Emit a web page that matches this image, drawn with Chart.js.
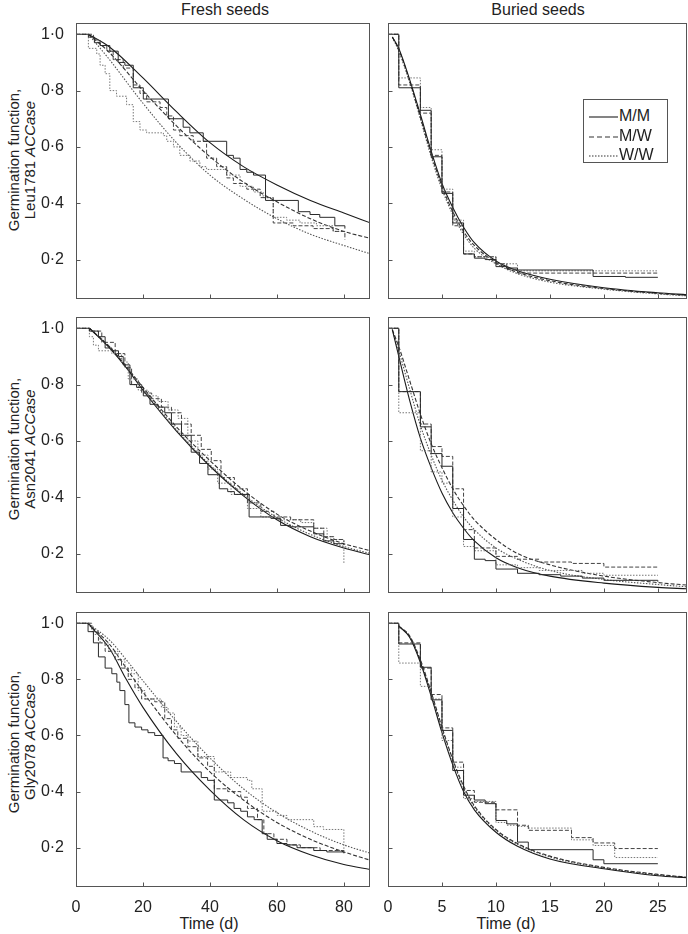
<!DOCTYPE html>
<html>
<head>
<meta charset="utf-8">
<script src="https://cdn.jsdelivr.net/npm/chart.js@4.4.1/dist/chart.umd.min.js"></script>
<style>
  body { margin: 0; background: #fff; }
  #wrap { position: relative; width: 688px; height: 934px; font-family: "Liberation Sans", Arial, sans-serif; color: #222; }
  canvas { position: absolute; }
  .lbl { position: absolute; font-size: 16px; line-height: 18px; white-space: nowrap; transform: translate(-50%, -50%); }
  .ytitle { position: absolute; font-size: 15px; line-height: 16px; text-align: center; white-space: nowrap; transform: translate(-50%, -50%) rotate(-90deg); }
  #legend { position: absolute; left: 583px; top: 99px; width: 83px; height: 62px; border: 1px solid #555; background: #fff; font-size: 16px; z-index: 5; }
  #legend .row { position: absolute; left: 5px; height: 18px; line-height: 18px; }
  #legend svg { vertical-align: middle; margin-right: 1px; }
</style>
</head>
<body>
<div id="wrap">
  <div class="lbl" style="left:225px;top:10px">Fresh seeds</div>
  <div class="lbl" style="left:538px;top:10px">Buried seeds</div>

  <div class="ytitle" style="left:22px;top:160px">Germination function,<br>Leu1781 <i>ACCase</i></div>
  <div class="ytitle" style="left:22px;top:449px">Germination function,<br>Asn2041 <i>ACCase</i></div>
  <div class="ytitle" style="left:22px;top:742px">Germination function,<br>Gly2078 <i>ACCase</i></div>

  <div class="lbl" style="left:209px;top:924px">Time (d)</div>
  <div class="lbl" style="left:506px;top:924px">Time (d)</div>

  <canvas id="c1" width="376" height="282" style="left:0;top:19px"></canvas>
  <canvas id="c2" width="308" height="282" style="left:380px;top:19px"></canvas>
  <canvas id="c3" width="376" height="282" style="left:0;top:313px"></canvas>
  <canvas id="c4" width="308" height="282" style="left:380px;top:313px"></canvas>
  <canvas id="c5" width="376" height="309" style="left:0;top:608px"></canvas>
  <canvas id="c6" width="308" height="309" style="left:380px;top:608px"></canvas>

  <div id="legend">
    <div class="row" style="top:7px"><svg width="29" height="4"><line x1="0" y1="2" x2="29" y2="2" stroke="#333" stroke-width="1.2"/></svg>M/M</div>
    <div class="row" style="top:27px"><svg width="29" height="4"><line x1="0" y1="2" x2="29" y2="2" stroke="#333" stroke-width="1.2" stroke-dasharray="5,3"/></svg>M/W</div>
    <div class="row" style="top:46px"><svg width="29" height="4"><line x1="0" y1="2" x2="29" y2="2" stroke="#333" stroke-width="1.2" stroke-dasharray="1.5,1.5"/></svg>W/W</div>
  </div>
</div>

<script>
// tick labels
const yTicks = [0.2, 0.4, 0.6, 0.8, 1.0]
const freshTicks = [0, 20, 40, 60, 80]
const buriedTicks = [0, 5, 10, 15, 20, 25]

// Leu1781, fresh seeds  ([time, fraction not germinated])
const leuFreshStepMM = [[0,1.0],[3.7,0.99],[5.5,0.97],[7.2,0.96],[10.1,0.94],[12.6,0.90],[14.6,0.89],[17.1,0.81],[20.1,0.77],[27.6,0.70],[32,0.67],[34,0.65],[38,0.62],[45,0.57],[47,0.56],[49,0.52],[51,0.51],[53,0.50],[56.6,0.41],[66.4,0.37],[69.9,0.36],[72.8,0.35],[77.3,0.32],[80.3,0.31]]
const leuFreshStepMW = [[0,1.0],[5.2,0.98],[7.2,0.96],[9.2,0.94],[11.1,0.91],[14.1,0.88],[17.1,0.82],[19.1,0.79],[21.1,0.76],[25.1,0.74],[27.1,0.71],[29.1,0.66],[31,0.64],[35,0.62],[39,0.56],[42,0.53],[45,0.49],[47,0.47],[51,0.45],[55,0.42],[58.9,0.33],[64.9,0.32],[70.8,0.31],[76.8,0.30],[80.3,0.27]]
const leuFreshStepWW = [[0,1.0],[3.7,0.95],[6.2,0.93],[7.2,0.89],[8.7,0.86],[10.1,0.80],[12.1,0.78],[15.1,0.75],[17.1,0.69],[19.1,0.66],[21.1,0.65],[26.1,0.64],[27.1,0.62],[29.1,0.60],[31,0.57],[34,0.55],[37,0.53],[39,0.52],[45,0.50],[49,0.46],[53,0.44],[55.9,0.42],[58.9,0.35],[62.9,0.34],[66.9,0.33],[71.8,0.32],[76.8,0.30],[80.3,0.29]]
const leuFreshFitMM = [[3.7,1.0],[10,0.955],[20,0.845],[30,0.725],[40,0.615],[50,0.53],[60,0.465],[70,0.41],[80,0.365],[88,0.33]]
const leuFreshFitMW = [[3.7,1.0],[10,0.935],[20,0.80],[30,0.675],[40,0.565],[50,0.475],[60,0.405],[70,0.345],[80,0.30],[88,0.275]]
const leuFreshFitWW = [[3.7,1.0],[10,0.91],[20,0.755],[30,0.615],[40,0.50],[50,0.415],[60,0.345],[70,0.29],[80,0.25],[88,0.22]]

// Leu1781, buried seeds
const leuBuriedStepMM = [[0,1.0],[1,0.81],[3,0.73],[4,0.565],[5,0.435],[6,0.33],[7,0.22],[8,0.205],[9,0.20],[10,0.175],[11,0.17],[12,0.163],[19,0.14],[22,0.137],[25,0.137]]
const leuBuriedStepMW = [[0,1.0],[1,0.82],[3,0.72],[4,0.57],[5,0.44],[6,0.32],[7,0.22],[8,0.21],[10,0.185],[11,0.165],[12,0.152],[25,0.152]]
const leuBuriedStepWW = [[0,1.0],[1,0.845],[3,0.74],[4,0.59],[5,0.45],[6,0.34],[7,0.23],[8,0.21],[10,0.185],[12,0.16],[25,0.16]]
const leuBuriedFitMM = [[0.4,0.99],[1,0.95],[2,0.84],[3,0.715],[4,0.585],[5,0.47],[6,0.385],[7,0.315],[8,0.26],[10,0.195],[12,0.16],[15,0.13],[20,0.10],[25,0.082],[27.7,0.075]]
const leuBuriedFitMW = [[0.4,0.99],[1,0.945],[2,0.835],[3,0.705],[4,0.575],[5,0.46],[6,0.37],[7,0.30],[8,0.25],[10,0.19],[12,0.155],[15,0.125],[20,0.097],[25,0.08],[27.7,0.073]]
const leuBuriedFitWW = [[0.4,0.99],[1,0.94],[2,0.83],[3,0.70],[4,0.565],[5,0.45],[6,0.36],[7,0.29],[8,0.24],[10,0.185],[12,0.15],[15,0.12],[20,0.095],[25,0.078],[27.7,0.071]]

// Asn2041, fresh seeds
const asnFreshStepMM = [[0,1.0],[4,0.99],[6.7,0.97],[8.7,0.93],[10.7,0.92],[12.7,0.90],[14.1,0.87],[16.1,0.80],[18.1,0.79],[20.1,0.76],[22.1,0.73],[24.5,0.72],[26.5,0.70],[28.5,0.66],[31.5,0.62],[34.4,0.56],[36.9,0.52],[39.4,0.48],[42.8,0.43],[45.3,0.42],[47.3,0.41],[51.7,0.33],[58.2,0.325],[61.1,0.30],[64.1,0.295],[71.0,0.27],[74.0,0.245],[77.0,0.235],[80.0,0.23]]
const asnFreshStepMW = [[0,1.0],[4,0.99],[7.7,0.95],[11.7,0.91],[14.6,0.86],[16.6,0.80],[19.6,0.77],[22.6,0.75],[25.5,0.72],[28.5,0.70],[31.5,0.66],[34.4,0.62],[37.4,0.57],[40.4,0.53],[43.3,0.47],[47.3,0.43],[51.2,0.38],[55.2,0.35],[59.1,0.33],[64.1,0.32],[71.0,0.29],[74.0,0.26],[77.0,0.25],[80.0,0.24]]
const asnFreshStepWW = [[0,1.0],[4,0.97],[5.2,0.94],[6.7,0.92],[10.7,0.91],[13.6,0.88],[15.6,0.82],[18.6,0.78],[21.6,0.76],[24.5,0.74],[27.5,0.71],[30.5,0.68],[33.4,0.60],[36.4,0.55],[39.4,0.50],[42.3,0.45],[46.3,0.41],[51.2,0.36],[55.2,0.33],[60.1,0.32],[67.1,0.31],[71.0,0.29],[75.0,0.26],[77.0,0.25],[80.0,0.165]]
const asnFreshFitMM = [[4,1.0],[10,0.93],[15,0.86],[20,0.78],[30,0.635],[40,0.51],[50,0.405],[60,0.32],[70,0.26],[80,0.22],[88,0.195]]
const asnFreshFitMW = [[4,1.0],[10,0.935],[15,0.865],[20,0.79],[30,0.65],[40,0.53],[50,0.425],[60,0.34],[70,0.28],[80,0.235],[88,0.21]]
const asnFreshFitWW = [[4,1.0],[10,0.932],[15,0.862],[20,0.785],[30,0.64],[40,0.515],[50,0.41],[60,0.328],[70,0.268],[80,0.225],[88,0.20]]

// Asn2041, buried seeds
const asnBuriedStepMM = [[0,1.0],[1,0.775],[3,0.65],[4,0.555],[5,0.51],[6,0.36],[7,0.25],[8,0.18],[9,0.175],[10,0.145],[12,0.13],[14,0.125],[16,0.12],[18,0.113],[20,0.105],[25,0.10]]
const asnBuriedStepMW = [[0,1.0],[1,0.775],[3,0.66],[4,0.58],[5,0.545],[6,0.43],[7,0.285],[8,0.22],[10,0.19],[12,0.18],[14,0.17],[17,0.165],[20,0.152],[25,0.152]]
const asnBuriedStepWW = [[0,1.0],[1,0.70],[3,0.565],[4,0.49],[5,0.45],[6,0.33],[7,0.225],[8,0.21],[10,0.16],[12,0.15],[14,0.14],[18,0.13],[20,0.123],[25,0.123]]
const asnBuriedFitMM = [[0.4,0.995],[1,0.90],[2,0.745],[3,0.61],[4,0.505],[5,0.415],[6,0.345],[7,0.29],[8,0.245],[10,0.185],[12,0.15],[15,0.12],[20,0.095],[25,0.08],[27.7,0.075]]
const asnBuriedFitMW = [[0.4,0.995],[1,0.935],[2,0.815],[3,0.695],[4,0.59],[5,0.505],[6,0.43],[7,0.37],[8,0.32],[10,0.25],[12,0.20],[15,0.16],[20,0.12],[25,0.097],[27.7,0.088]]
const asnBuriedFitWW = [[0.4,0.995],[1,0.92],[2,0.785],[3,0.655],[4,0.55],[5,0.46],[6,0.39],[7,0.33],[8,0.285],[10,0.22],[12,0.18],[15,0.14],[20,0.108],[25,0.09],[27.7,0.082]]

// Gly2078, fresh seeds
const glyFreshStepMM = [[0,1.0],[3.6,0.97],[5.2,0.93],[6.7,0.88],[8.7,0.84],[10.7,0.82],[12.2,0.79],[13.1,0.76],[14.6,0.71],[15.8,0.645],[17.6,0.63],[19.6,0.62],[21.5,0.61],[23.5,0.60],[26,0.52],[27.5,0.51],[29.4,0.50],[31.4,0.47],[37.4,0.45],[39.3,0.44],[41.3,0.37],[45.3,0.36],[47.2,0.34],[49.2,0.33],[51.2,0.31],[53.2,0.30],[55.6,0.25],[57.1,0.23],[60,0.215],[63,0.21],[66,0.20],[71,0.19],[74.9,0.185],[80,0.18]]
const glyFreshStepMW = [[0,1.0],[4.7,0.97],[6.7,0.93],[8.7,0.90],[11.7,0.87],[13.6,0.84],[15.6,0.80],[17.6,0.77],[19.6,0.73],[23.5,0.72],[26.5,0.66],[28.5,0.62],[30.4,0.59],[33.4,0.56],[36.4,0.52],[39.3,0.49],[41.3,0.41],[45.3,0.40],[49.2,0.38],[51.2,0.34],[54.2,0.30],[56.1,0.25],[59.1,0.23],[63,0.21],[67,0.20],[72.9,0.19],[80,0.18]]
const glyFreshStepWW = [[0,1.0],[4.0,0.99],[5.2,0.96],[7.2,0.93],[9.7,0.90],[12.6,0.87],[14.6,0.84],[16.6,0.82],[18.6,0.76],[20.6,0.73],[25.5,0.70],[27.5,0.68],[29.4,0.63],[31.4,0.60],[33.4,0.58],[36.4,0.525],[41.3,0.47],[46.2,0.45],[51.2,0.44],[52.5,0.41],[55.6,0.33],[60.1,0.315],[63,0.30],[71,0.275],[73.9,0.265],[80,0.18]]
const glyFreshFitMM = [[3.5,1.0],[10,0.91],[15,0.80],[20,0.70],[30,0.535],[40,0.405],[50,0.30],[60,0.225],[70,0.175],[80,0.14],[88,0.122]]
const glyFreshFitMW = [[3.5,1.0],[10,0.925],[15,0.84],[20,0.755],[30,0.60],[40,0.47],[50,0.37],[60,0.29],[70,0.23],[80,0.185],[88,0.155]]
const glyFreshFitWW = [[3.5,1.0],[10,0.94],[15,0.87],[20,0.795],[30,0.65],[40,0.52],[50,0.41],[60,0.325],[70,0.26],[80,0.21],[88,0.18]]

// Gly2078, buried seeds
const glyBuriedStepMM = [[0,1.0],[1,0.926],[3,0.843],[4,0.727],[5,0.618],[6,0.475],[7,0.387],[8,0.37],[9,0.357],[10,0.297],[11,0.285],[12,0.22],[13,0.193],[19,0.157],[20,0.143],[25,0.143]]
const glyBuriedStepMW = [[0,1.0],[1,0.93],[3,0.84],[4,0.746],[5,0.627],[6,0.505],[7,0.404],[8,0.362],[10,0.335],[12,0.28],[13,0.262],[17,0.236],[19,0.217],[21,0.197],[25,0.197]]
const glyBuriedStepWW = [[0,1.0],[1,0.858],[3,0.775],[4,0.73],[5,0.582],[6,0.487],[7,0.375],[8,0.365],[10,0.29],[11,0.28],[12,0.276],[13,0.27],[17,0.228],[19,0.208],[21,0.165],[25,0.165]]
const glyBuriedFitMM = [[1,0.99],[2,0.95],[3,0.86],[4,0.74],[5,0.61],[6,0.495],[7,0.40],[8,0.335],[10,0.255],[12,0.205],[15,0.16],[20,0.125],[25,0.10],[27.7,0.093]]
const glyBuriedFitMW = [[1,0.99],[2,0.955],[3,0.87],[4,0.755],[5,0.63],[6,0.515],[7,0.42],[8,0.35],[10,0.265],[12,0.215],[15,0.17],[20,0.13],[25,0.105],[27.7,0.095]]
const glyBuriedFitWW = [[1,0.99],[2,0.952],[3,0.866],[4,0.75],[5,0.625],[6,0.51],[7,0.415],[8,0.345],[10,0.262],[12,0.212],[15,0.167],[20,0.128],[25,0.103],[27.7,0.094]]

const FONT = '"Liberation Sans", Arial, sans-serif'
const dashes = { MM: [], MW: [4, 2], WW: [1.5, 1.5] }

// box round the plot plus short inward ticks
const framePlugin = {
    id: 'frame',
    afterDraw: (chart) => {
        const {ctx, chartArea: a, scales} = chart
        ctx.save()
        ctx.strokeStyle = '#555'
        ctx.lineWidth = 1
        ctx.setLineDash([])
        const l = Math.round(a.left) + 0.5, t = Math.round(a.top) + 0.5
        const r = Math.round(a.right) - 0.5, b = Math.round(a.bottom) - 0.5
        ctx.strokeRect(l, t, r - l, b - t)
        ctx.beginPath()
        for (let tk of scales.x.ticks) {
            const px = Math.round(scales.x.getPixelForValue(tk.value)) + 0.5
            ctx.moveTo(px, b); ctx.lineTo(px, b - 4)
        }
        for (let tk of scales.y.ticks) {
            const py = Math.round(scales.y.getPixelForValue(tk.value)) + 0.5
            ctx.moveTo(l, py); ctx.lineTo(l + 4, py)
        }
        ctx.stroke()
        ctx.restore()
    }
}

let toXY = (arr) => arr.map(p => ({x: p[0], y: p[1]}))

let stepSet = (arr, key, color) => ({
    data: toXY(arr), stepped: 'before', borderColor: color, borderWidth: 1,
    borderDash: dashes[key], pointRadius: 0, fill: false
})
let fitSet = (arr, key, color) => ({
    data: toXY(arr), cubicInterpolationMode: 'monotone', borderColor: color, borderWidth: 1.1,
    borderDash: dashes[key], pointRadius: 0, fill: false
})

function makePanel(id, steps, fits, opts) {
    const datasets = [
        stepSet(steps[0], 'MM', '#2a2a2a'),
        stepSet(steps[1], 'MW', '#444'),
        stepSet(steps[2], 'WW', '#777'),
        fitSet(fits[0], 'MM', '#1a1a1a'),
        fitSet(fits[1], 'MW', '#333'),
        fitSet(fits[2], 'WW', '#555')
    ]
    new Chart(document.getElementById(id), {
        type: 'line',
        data: { datasets: datasets },
        plugins: [framePlugin],
        options: {
            responsive: false,
            animation: false,
            devicePixelRatio: 1,
            layout: { padding: { top: 4, right: opts.padRight, left: 0, bottom: 0 } },
            plugins: { legend: { display: false }, tooltip: { enabled: false } },
            scales: {
                x: {
                    type: 'linear', min: 0, max: opts.xMax, bounds: 'data',
                    afterBuildTicks: (s) => { s.ticks = opts.xTicks.map(v => ({value: v})) },
                    afterFit: (s) => { s.height = opts.xAxisH; s.paddingLeft = 0; s.paddingRight = 0 },
                    grid: { display: false }, border: { display: false },
                    ticks: { display: opts.xLabels, padding: 3, color: '#222', font: { family: FONT, size: 16 },
                             maxRotation: 0, autoSkip: false }
                },
                y: {
                    type: 'linear', min: 0.06, max: 1.04, bounds: 'data',
                    afterBuildTicks: (s) => { s.ticks = yTicks.map(v => ({value: v})) },
                    afterFit: (s) => { s.width = opts.yAxisW; s.paddingTop = 0; s.paddingBottom = 0 },
                    grid: { display: false }, border: { display: false },
                    ticks: { display: opts.yLabels, padding: 4, color: '#222', font: { family: FONT, size: 16 },
                             callback: (v) => Number(v).toFixed(1).replace('.', '\u00b7') }
                }
            }
        }
    })
}

const leftOpts = { xMax: 87.8, xTicks: freshTicks, yLabels: true, yAxisW: 76, padRight: 6 }
const rightOpts = { xMax: 27.7, xTicks: buriedTicks, yLabels: false, yAxisW: 8, padRight: 1 }

makePanel('c1', [leuFreshStepMM, leuFreshStepMW, leuFreshStepWW], [leuFreshFitMM, leuFreshFitMW, leuFreshFitWW], {...leftOpts, xLabels: false, xAxisH: 2})
makePanel('c2', [leuBuriedStepMM, leuBuriedStepMW, leuBuriedStepWW], [leuBuriedFitMM, leuBuriedFitMW, leuBuriedFitWW], {...rightOpts, xLabels: false, xAxisH: 2})
makePanel('c3', [asnFreshStepMM, asnFreshStepMW, asnFreshStepWW], [asnFreshFitMM, asnFreshFitMW, asnFreshFitWW], {...leftOpts, xLabels: false, xAxisH: 2})
makePanel('c4', [asnBuriedStepMM, asnBuriedStepMW, asnBuriedStepWW], [asnBuriedFitMM, asnBuriedFitMW, asnBuriedFitWW], {...rightOpts, xLabels: false, xAxisH: 2})
makePanel('c5', [glyFreshStepMM, glyFreshStepMW, glyFreshStepWW], [glyFreshFitMM, glyFreshFitMW, glyFreshFitWW], {...leftOpts, xLabels: true, xAxisH: 30})
makePanel('c6', [glyBuriedStepMM, glyBuriedStepMW, glyBuriedStepWW], [glyBuriedFitMM, glyBuriedFitMW, glyBuriedFitWW], {...rightOpts, xLabels: true, xAxisH: 30})
</script>
</body>
</html>
